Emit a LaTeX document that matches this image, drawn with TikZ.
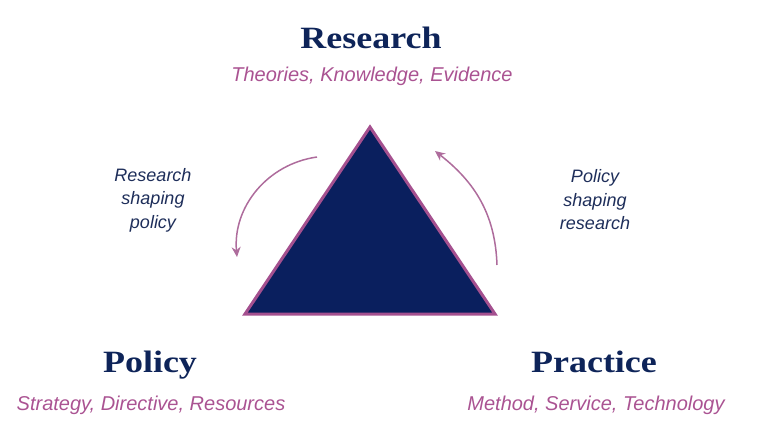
\documentclass[tikz,border=0pt]{standalone}
\usepackage{fontspec}
\setmainfont{Liberation Serif}
\newfontfamily\titlefont{Liberation Serif}[FakeStretch=1.16]
\newfontfamily\sansfont{Liberation Sans}
\usetikzlibrary{arrows.meta}
\definecolor{navy}{HTML}{0A1F5E}
\definecolor{titlenavy}{HTML}{0E2459}
\definecolor{sidenavy}{HTML}{1E2E5A}
\definecolor{pinkline}{HTML}{A4508F}
\definecolor{pinktext}{HTML}{AA5392}
\definecolor{arrowpink}{HTML}{AE6C9C}
\tikzset{
  titletext/.style={font=\titlefont\bfseries\fontsize{31}{31}\selectfont, text=titlenavy, inner sep=0pt, anchor=base},
  subtext/.style={font=\sansfont\itshape\fontsize{20}{20}\selectfont, text=pinktext, inner sep=0pt, anchor=base},
  sidetext/.style={font=\sansfont\itshape\fontsize{18}{23.5}\selectfont, text=sidenavy, inner sep=0pt, align=center},
  curvearrow/.style={draw=arrowpink, line width=1.5pt, -{Stealth[length=10pt,width=9pt]}}
}
\begin{document}
\begin{tikzpicture}[x=1pt,y=-1pt]
\useasboundingbox (0,0) rectangle (768,440);
% triangle
\coordinate (apex) at (370,127);
\coordinate (bl) at (245,314);
\coordinate (br) at (495,314);
\draw[fill=navy, draw=pinkline, line width=3pt, line join=miter] (apex) -- (br) -- (bl) -- cycle;
% titles
\node[titletext] (research) at (371,48) {Research};
\node[subtext] (researchsub) at (372,81) {Theories, Knowledge, Evidence};
\node[titletext] (policy) at (150,372) {Policy};
\node[subtext] (policysub) at (151,410) {Strategy, Directive, Resources};
\node[titletext] (practice) at (594,372) {Practice};
\node[subtext] (practicesub) at (596,410) {Method, Service, Technology};
% side texts
\node[sidetext] (rsp) at (153,200) {Research\\shaping\\policy};
\node[sidetext] (psr) at (595,200) {Policy\\shaping\\research};
% arrows
\coordinate (la1) at (317,157);
\coordinate (la2) at (237,257);
\coordinate (ra1) at (497,265);
\coordinate (ra2) at (435,151);
\draw[curvearrow] (la1) to[out=188,in=95] (la2);
\draw[curvearrow] (ra1) to[out=92,in=-38] (ra2);
\end{tikzpicture}
\end{document}
